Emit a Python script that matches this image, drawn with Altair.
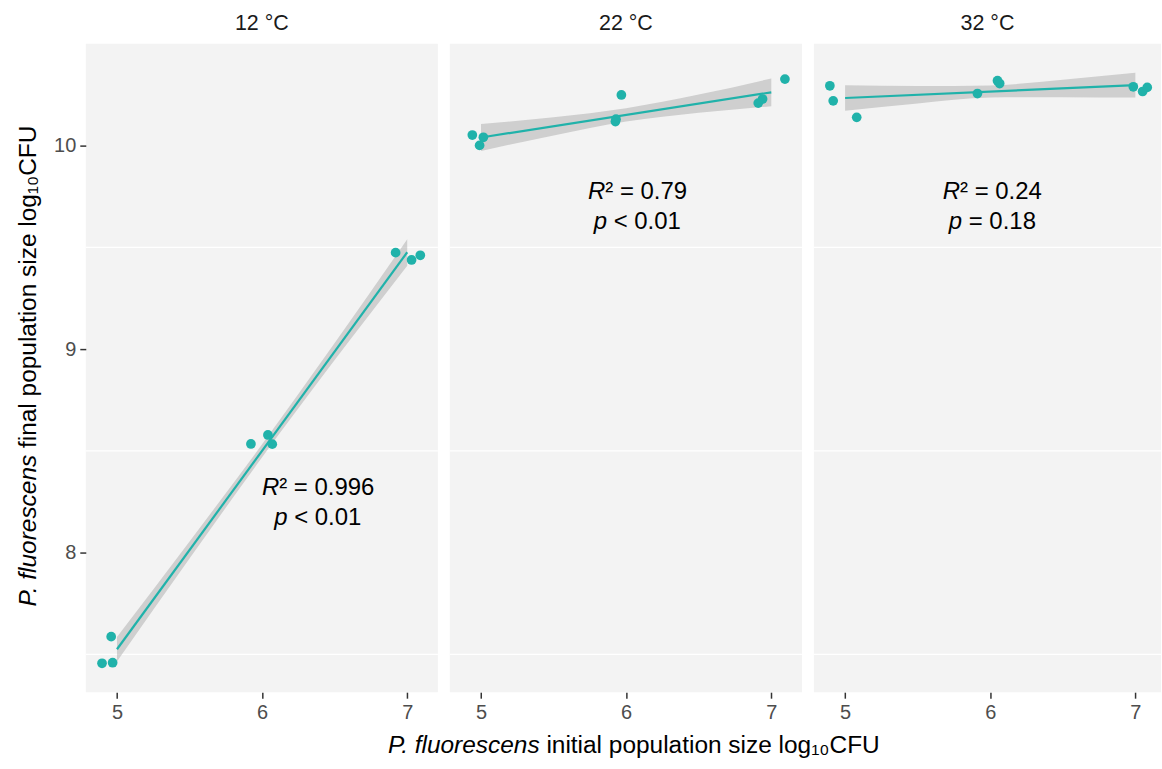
import altair as alt
import pandas as pd

# ---------------- data ----------------
panel_titles = ["12 °C", "22 °C", "32 °C"]

# jittered observations (initial, final) per temperature
x12 = [4.897, 4.970, 4.960, 5.923, 6.040, 6.070, 6.920, 7.030, 7.090]
y12 = [7.456, 7.459, 7.587, 8.534, 8.578, 8.533, 9.474, 9.438, 9.461]
x22 = [4.940, 5.016, 4.990, 5.967, 5.926, 5.930, 6.910, 6.940, 7.094]
y22 = [10.052, 10.041, 10.001, 10.249, 10.118, 10.130, 10.209, 10.229, 10.327]
x32 = [4.895, 4.918, 5.080, 5.912, 6.050, 6.065, 6.986, 7.050, 7.082]
y32 = [10.294, 10.220, 10.139, 10.256, 10.319, 10.305, 10.289, 10.266, 10.286]

# fitted line end points
line_x = [5, 7]
line12 = [7.525, 9.476]
line22 = [10.040, 10.262]
line32 = [10.234, 10.297]

# confidence band edges
band_x = [5, 5.5, 6, 6.5, 7]
lo12 = [7.465, 7.971, 8.468, 8.946, 9.410]
hi12 = [7.585, 8.055, 8.532, 9.030, 9.540]
lo22 = [9.974, 10.050, 10.118, 10.161, 10.194]
hi22 = [10.106, 10.140, 10.184, 10.251, 10.330]
lo32 = [10.171, 10.207, 10.236, 10.238, 10.236]
hi32 = [10.297, 10.293, 10.296, 10.324, 10.358]

# annotations
r_text = ["² = 0.996", "² = 0.79", "² = 0.24"]
p_text = ["< 0.01", "< 0.01", "= 0.18"]
r_x = [6.118, 5.856, 5.792]
p_x = [6.175, 5.868, 5.806]
r_y = [8.319, 9.771, 9.771]
p_y = [8.172, 9.624, 9.624]

grid_vals = [7.5, 8.5, 9.5]
x_ticks = [5, 6, 7]
y_ticks = [8, 9, 10]

x_title_it = "P. fluorescens"
x_title_rest = "initial population size log₁₀CFU"
y_title_it = "P. fluorescens"
y_title_rest = "final population size log₁₀CFU"

# ---------------- styling ----------------
FONT = "Liberation Sans"
TEAL = "#20b2aa"
H = 650
Y_DOM = [7.314, 10.5]
X_MIN = 4.785
PX_PER_X = 145.5
widths = [353, 353, 348]


def panel(i, xs, ys, lx, ly, lo, hi):
    w = widths[i]
    xscale = alt.Scale(domain=[X_MIN, X_MIN + w / PX_PER_X], nice=False, zero=False)
    yscale = alt.Scale(domain=Y_DOM, nice=False, zero=False)
    xaxis = alt.Axis(values=x_ticks, title=None, grid=False, domain=False,
                     tickColor="#333333", tickWidth=1.5, tickSize=6,
                     labelFont=FONT, labelFontSize=20, labelColor="#4d4d4d",
                     labelPadding=4, format="d")
    if i == 0:
        yaxis = alt.Axis(values=y_ticks, title=None, grid=False, domain=False,
                         tickColor="#333333", tickWidth=1.5, tickSize=6,
                         labelFont=FONT, labelFontSize=20, labelColor="#4d4d4d",
                         labelPadding=4, format="d")
    else:
        yaxis = None

    def X(f):
        return alt.X(f, type="quantitative", scale=xscale, axis=xaxis)

    def Y(f):
        return alt.Y(f, type="quantitative", scale=yscale, axis=yaxis)

    grid = alt.Chart(pd.DataFrame({"g": grid_vals})).mark_rule(
        color="white", strokeWidth=1.3).encode(y=Y("g"))
    band = alt.Chart(pd.DataFrame({"x": band_x, "lo": lo, "hi": hi})).mark_area(
        color="#999999", opacity=0.4, interpolate="monotone").encode(
        x=X("x"), y=Y("lo"), y2="hi")
    line = alt.Chart(pd.DataFrame({"x": lx, "y": ly})).mark_line(
        color=TEAL, strokeWidth=2.2).encode(x=X("x"), y=Y("y"))
    pts = alt.Chart(pd.DataFrame({"x": xs, "y": ys})).mark_circle(
        color=TEAL, size=95, opacity=1).encode(x=X("x"), y=Y("y"))

    ann = pd.DataFrame({"rx": [r_x[i]], "ry": [r_y[i]], "px": [p_x[i]], "py": [p_y[i]],
                        "ri": ["R"], "rt": [r_text[i]], "pi": ["p"], "pt": [p_text[i]]})
    tstyle = dict(font=FONT, fontSize=24, color="black", baseline="middle")
    r1 = alt.Chart(ann).mark_text(align="right", fontStyle="italic", **tstyle).encode(
        x=X("rx"), y=Y("ry"), text="ri:N")
    r2 = alt.Chart(ann).mark_text(align="left", **tstyle).encode(
        x=X("rx"), y=Y("ry"), text="rt:N")
    p1 = alt.Chart(ann).mark_text(align="right", fontStyle="italic", **tstyle).encode(
        x=X("px"), y=Y("py"), text="pi:N")
    p2 = alt.Chart(ann).mark_text(align="left", dx=6.7, **tstyle).encode(
        x=X("px"), y=Y("py"), text="pt:N")

    layers = [grid, band, line, pts, r1, r2, p1, p2]

    astyle = dict(font=FONT, fontSize=24.5, color="black", baseline="middle")
    if i == 0:
        yt = pd.DataFrame({"a": [y_title_it], "b": [y_title_rest]})
        ya = alt.Chart(yt).mark_text(align="right", angle=270, fontStyle="italic",
                                     **astyle).encode(
            x=alt.value(-57), y=alt.value(412), text="a:N")
        yb = alt.Chart(yt).mark_text(align="left", angle=270, dx=6.8, **astyle).encode(
            x=alt.value(-57), y=alt.value(412), text="b:N")
        layers += [ya, yb]
    if i == 1:
        xt = pd.DataFrame({"a": [x_title_it], "b": [x_title_rest]})
        xa = alt.Chart(xt).mark_text(align="right", fontStyle="italic", **astyle).encode(
            x=alt.value(90), y=alt.value(704), text="a:N")
        xb = alt.Chart(xt).mark_text(align="left", dx=6.8, **astyle).encode(
            x=alt.value(90), y=alt.value(704), text="b:N")
        layers += [xa, xb]

    return alt.layer(*layers).properties(
        width=w, height=H,
        title=alt.Title(panel_titles[i], font=FONT, fontSize=21.5, fontWeight="normal",
                        color="#1a1a1a", offset=9, anchor="middle"))


chart = alt.hconcat(
    panel(0, x12, y12, line_x, line12, lo12, hi12),
    panel(1, x22, y22, line_x, line22, lo22, hi22),
    panel(2, x32, y32, line_x, line32, lo32, hi32),
    spacing=12, bounds="flush",
).properties(
    padding={"left": 15, "top": 12, "right": 0, "bottom": 5},
    background="white",
).configure_view(fill="#f3f3f3", stroke=None)

chart.save("out.html", embed_options={"renderer": "svg", "actions": False})
